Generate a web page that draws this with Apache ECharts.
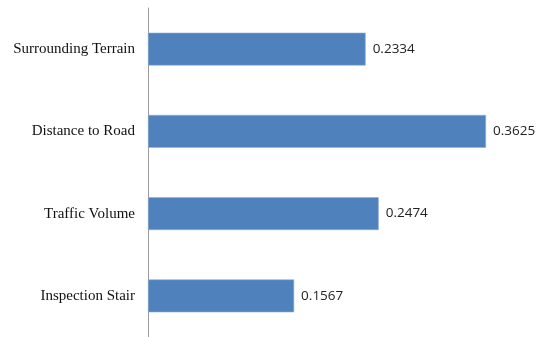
<!DOCTYPE html>
<html>
<head>
<meta charset="utf-8">
<script src="https://cdn.jsdelivr.net/npm/echarts@6/dist/echarts.min.js"></script>
<style>
  html, body { margin: 0; padding: 0; background: #fff; }
  #chart { width: 540px; height: 337px; }
</style>
</head>
<body>
<div id="chart"></div>
<script>
// Factor weights, listed bottom to top as the category axis draws them
const categories = ['Inspection Stair', 'Traffic Volume', 'Distance to Road', 'Surrounding Terrain'];
const weights = [0.1567, 0.2474, 0.3625, 0.2334];

const chart = echarts.init(document.getElementById('chart'), null, { renderer: 'canvas' });

chart.setOption({
  animation: false,
  backgroundColor: '#ffffff',
  grid: { left: 148, right: 19, top: 8, bottom: -2, containLabel: false },
  xAxis: {
    type: 'value',
    min: 0,
    max: 0.4,
    show: false
  },
  yAxis: {
    type: 'category',
    data: categories,
    axisLine: { show: true, lineStyle: { color: '#9a9a9a', width: 1 } },
    axisTick: { show: false },
    axisLabel: {
      margin: 13,
      fontFamily: 'Liberation Serif',
      fontSize: 15,
      color: '#111111'
    },
    splitLine: { show: false }
  },
  series: [{
    type: 'bar',
    data: weights,
    barWidth: '40%',
    itemStyle: { color: '#4f81bd', borderColor: '#8fb0db', borderWidth: 0.6 },
    label: {
      show: true,
      position: 'right',
      distance: 7,
      fontFamily: 'Open Sans',
      fontSize: 13.5,
      color: '#222222',
      formatter: p => p.value.toFixed(4)
    }
  }]
});
</script>
</body>
</html>
